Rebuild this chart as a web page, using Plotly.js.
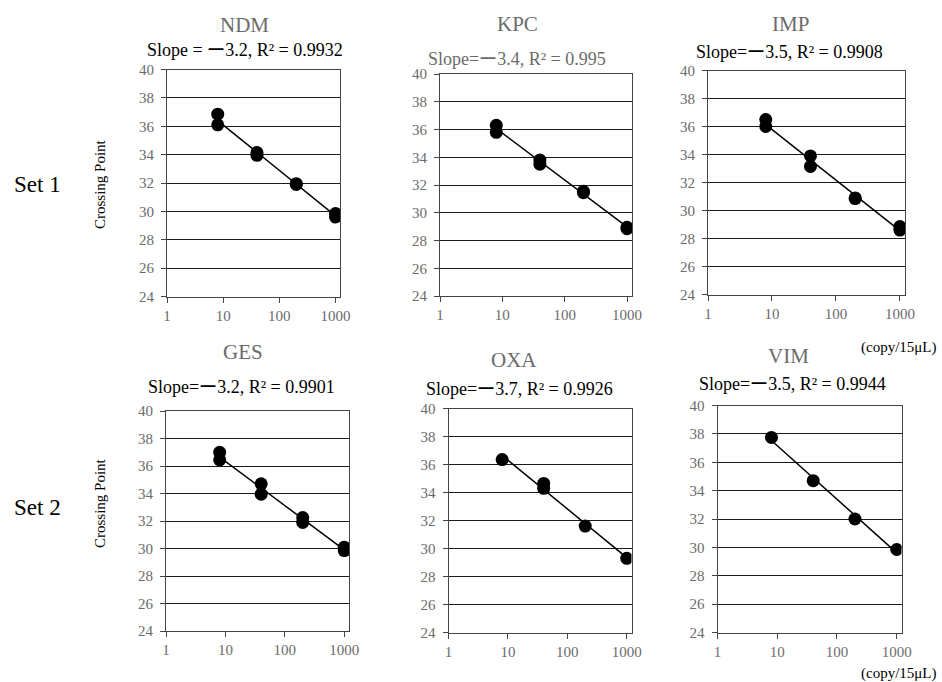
<!DOCTYPE html>
<html>
<head>
<meta charset="utf-8">
<script src="https://cdn.plot.ly/plotly-3.0.1.min.js"></script>
<style>html,body{margin:0;padding:0;background:#fff;}#chart{width:942px;height:682px;}</style>
</head>
<body>
<div id="chart"></div>
<script>
// ---- data ----
const panelNames = ["NDM", "KPC", "IMP", "GES", "OXA", "VIM"];
const slopeLabels = [
  "Slope = ー3.2, R² = 0.9932",
  "Slope=ー3.4, R² = 0.995",
  "Slope=ー3.5, R² = 0.9908",
  "Slope=ー3.2, R² = 0.9901",
  "Slope=ー3.7, R² = 0.9926",
  "Slope=ー3.5, R² = 0.9944"
];
const xTickVals = [1, 10, 100, 1000];
const xTickText = ["1", "10", "100", "1000"];

const ndmX = [8, 8, 40, 40, 200, 200, 1000, 1000];
const ndmY = [36.85, 36.1, 34.15, 33.95, 31.95, 31.9, 29.85, 29.6];
const kpcX = [8, 8, 40, 40, 200, 200, 1000, 1000];
const kpcY = [36.3, 35.8, 33.8, 33.5, 31.55, 31.45, 28.95, 28.85];
const impX = [8, 8, 40, 40, 200, 200, 1000, 1000];
const impY = [36.5, 36.0, 33.9, 33.15, 30.9, 30.85, 28.85, 28.6];
const gesX = [8, 8, 40, 40, 200, 200, 1000, 1000];
const gesY = [37.0, 36.45, 34.7, 33.95, 32.25, 31.9, 30.1, 29.85];
const oxaX = [8, 40, 40, 200, 1000];
const oxaY = [36.35, 34.65, 34.3, 31.6, 29.3];
const vimX = [8, 40, 200, 1000];
const vimY = [37.75, 34.7, 32.0, 29.85];

const seriesX = [ndmX, kpcX, impX, gesX, oxaX, vimX];
const seriesY = [ndmY, kpcY, impY, gesY, oxaY, vimY];

// ---- layout geometry (pixels) ----
const W = 942, H = 682;
const boxes = [
  {l: 167, r: 340, t: 69.5, b: 296.5},
  {l: 440, r: 632, t: 74, b: 296},
  {l: 708, r: 905, t: 70.5, b: 294.5},
  {l: 166, r: 349, t: 411, b: 631},
  {l: 448.5, r: 631.5, t: 408.5, b: 632.5},
  {l: 717.5, r: 901.5, t: 405.5, b: 632.5}
];
const titlePos = [
  {tx: 244, ty: 25, sx: 245, sy: 50, sc: "#000"},
  {tx: 517, ty: 24, sx: 517, sy: 59, sc: "#6b6b6b"},
  {tx: 790, ty: 24, sx: 789, sy: 52, sc: "#000"},
  {tx: 243, ty: 352, sx: 241, sy: 387, sc: "#000"},
  {tx: 514, ty: 360, sx: 519, sy: 389, sc: "#000"},
  {tx: 788, ty: 356, sx: 792, sy: 384, sc: "#000"}
];

const SERIF = "Liberation Serif, Times New Roman, serif";
const GRAY = "#6b6b6b";

function fit(xs, ys) {
  const lx = xs.map(v => Math.log10(v));
  const n = lx.length;
  const mx = lx.reduce((a, b) => a + b, 0) / n;
  const my = ys.reduce((a, b) => a + b, 0) / n;
  let sxy = 0, sxx = 0;
  for (let i = 0; i < n; i++) { sxy += (lx[i] - mx) * (ys[i] - my); sxx += (lx[i] - mx) ** 2; }
  const b = sxy / sxx, a = my - b * mx;
  return {a, b};
}

const traces = [];
const layout = {
  width: W, height: H,
  margin: {l: 0, r: 0, t: 0, b: 0},
  paper_bgcolor: "#fff", plot_bgcolor: "#fff",
  showlegend: false,
  annotations: []
};

for (let i = 0; i < 6; i++) {
  const k = i + 1;
  const xa = "x" + (k === 1 ? "" : k), ya = "y" + (k === 1 ? "" : k);
  const xs = seriesX[i], ys = seriesY[i];
  const f = fit(xs, ys);
  const xmin = Math.min(...xs), xmax = Math.max(...xs);
  traces.push({
    x: [xmin, xmax],
    y: [f.a + f.b * Math.log10(xmin), f.a + f.b * Math.log10(xmax)],
    xaxis: xa, yaxis: ya, mode: "lines", type: "scatter",
    line: {color: "#000", width: 1.5}, hoverinfo: "skip"
  });
  traces.push({
    x: xs, y: ys, xaxis: xa, yaxis: ya, mode: "markers", type: "scatter",
    marker: {color: "#000", size: 13, line: {width: 0}}
  });
  const bx = boxes[i];
  layout["xaxis" + (k === 1 ? "" : k)] = {
    type: "log", range: [0, 3.08],
    domain: [bx.l / W, bx.r / W], anchor: ya,
    tickvals: xTickVals, ticktext: xTickText,
    ticks: "outside", ticklen: 5, tickcolor: "#444", tickwidth: 1,
    showline: true, linecolor: "#444", linewidth: 1, mirror: true,
    showgrid: false, zeroline: false,
    tickfont: {family: SERIF, size: 15, color: GRAY},
    fixedrange: true
  };
  layout["yaxis" + (k === 1 ? "" : k)] = {
    range: [24, 40], tick0: 24, dtick: 2,
    domain: [1 - bx.b / H, 1 - bx.t / H], anchor: xa,
    ticks: "outside", ticklen: 5, tickcolor: "#444", tickwidth: 1,
    ticklabelstandoff: 4,
    showline: true, linecolor: "#444", linewidth: 1, mirror: true,
    showgrid: true, gridcolor: "#1a1a1a", gridwidth: 1, zeroline: false,
    tickfont: {family: SERIF, size: 15, color: GRAY},
    fixedrange: true
  };
  const tp = titlePos[i];
  layout.annotations.push({
    text: panelNames[i], xref: "paper", yref: "paper",
    x: tp.tx / W, y: 1 - tp.ty / H, xanchor: "center", yanchor: "middle",
    showarrow: false, font: {family: SERIF, size: 21, color: GRAY}
  });
  layout.annotations.push({
    text: slopeLabels[i], xref: "paper", yref: "paper",
    x: tp.sx / W, y: 1 - tp.sy / H, xanchor: "center", yanchor: "middle",
    showarrow: false, font: {family: SERIF, size: 18, color: tp.sc}
  });
}

// row labels, axis titles, unit labels
const extra = [
  {text: "Set 1", x: 37, y: 184, size: 23, angle: 0},
  {text: "Set 2", x: 37, y: 507, size: 23, angle: 0},
  {text: "Crossing Point", x: 100, y: 184, size: 15, angle: -90},
  {text: "Crossing Point", x: 100, y: 503, size: 15, angle: -90},
  {text: "(copy/15μL)", x: 899, y: 347, size: 15, angle: 0},
  {text: "(copy/15μL)", x: 899, y: 673, size: 15, angle: 0}
];
extra.forEach(e => layout.annotations.push({
  text: e.text, xref: "paper", yref: "paper",
  x: e.x / W, y: 1 - e.y / H, xanchor: "center", yanchor: "middle",
  textangle: e.angle, showarrow: false,
  font: {family: SERIF, size: e.size, color: "#000"}
}));

Plotly.newPlot("chart", traces, layout, {staticPlot: true, displayModeBar: false});
</script>
</body>
</html>
